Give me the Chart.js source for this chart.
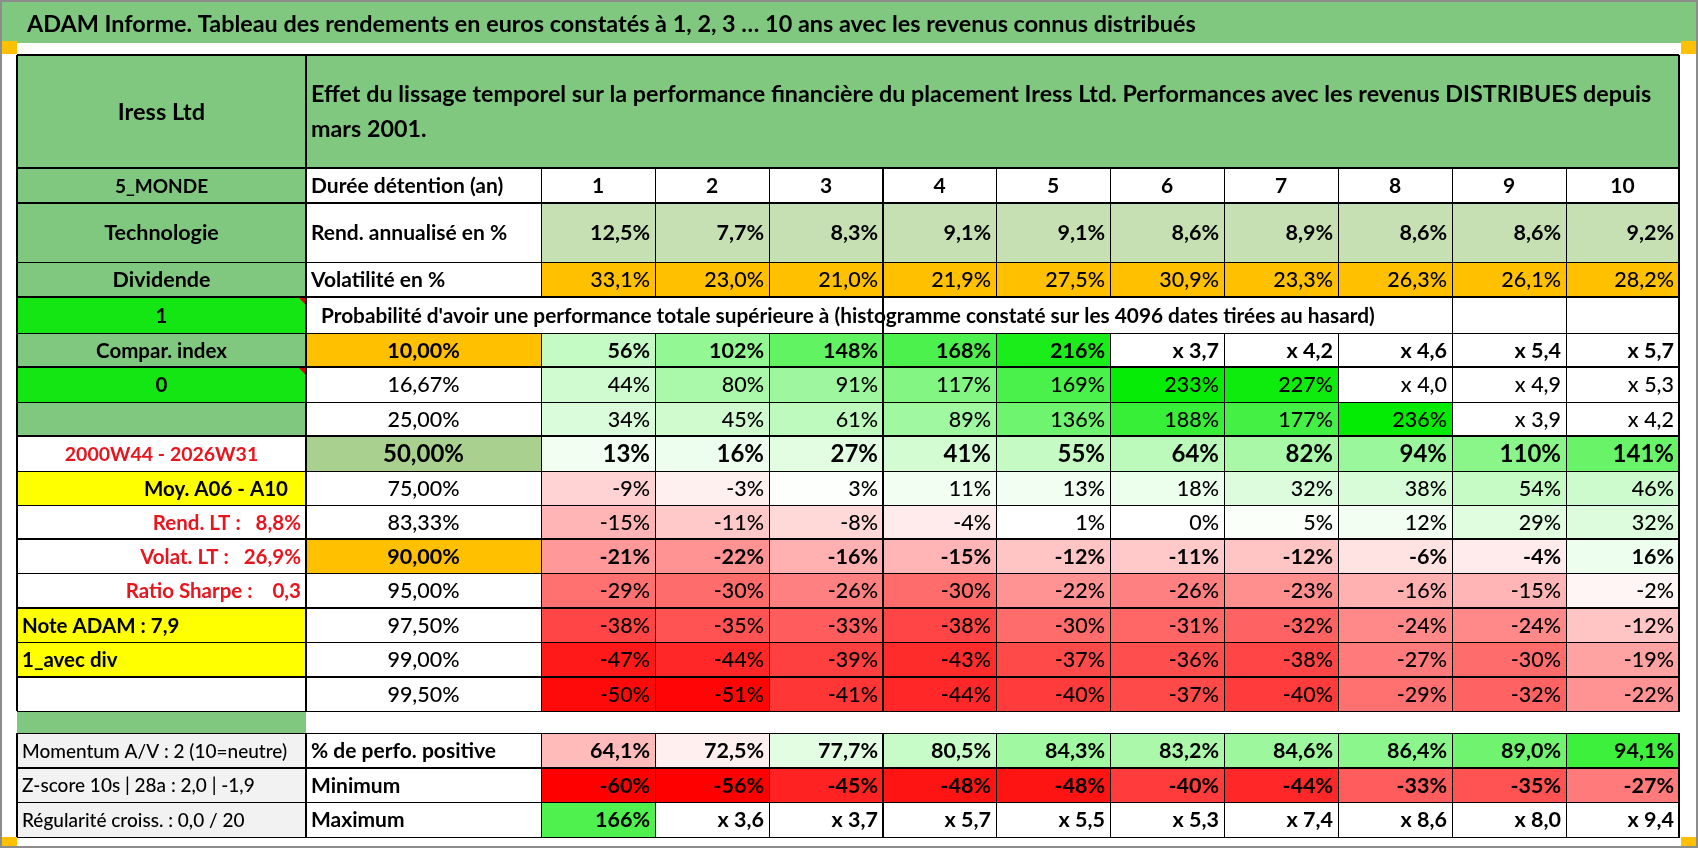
<!DOCTYPE html>
<html>
<head>
<meta charset="utf-8">
<script src="https://cdn.jsdelivr.net/npm/chart.js@4.4.1/dist/chart.umd.min.js"></script>
<style>
  html, body { margin: 0; padding: 0; background: #fff; }
  #wrap { width: 1698px; height: 848px; }
</style>
</head>
<body>
<div id="wrap"><canvas id="c" width="1698" height="848"></canvas></div>
<script>
// ---- data ----
const pageTitle = 'ADAM Informe. Tableau des rendements en euros constatés à 1, 2, 3 … 10 ans avec les revenus connus distribués';
const headerLines = [
  'Effet du lissage temporel sur la performance financière du placement Iress Ltd. Performances avec les revenus DISTRIBUES depuis',
  'mars 2001.'
];
const probTitle = "Probabilité d'avoir une performance totale supérieure à (histogramme constaté sur les 4096 dates tirées au hasard)";

const sideLabels = [
  'Iress Ltd', '5_MONDE', 'Technologie', 'Dividende', '1', 'Compar. index', '0', '',
  '2000W44 - 2026W31', 'Moy. A06 - A10', 'Rend. LT :   8,8%', 'Volat. LT :   26,9%',
  'Ratio Sharpe :    0,3', 'Note ADAM : 7,9', '1_avec div', '', '',
  'Momentum A/V : 2 (10=neutre)', 'Z-score 10s | 28a : 2,0 | -1,9', 'Régularité croiss. : 0,0 / 20'
];
const topLabels = ['Durée détention (an)', 'Rend. annualisé en %', 'Volatilité en %'];
const bottomLabels = ['% de perfo. positive', 'Minimum', 'Maximum'];

const holdYears = ['1', '2', '3', '4', '5', '6', '7', '8', '9', '10'];
const annualReturn = ['12,5%', '7,7%', '8,3%', '9,1%', '9,1%', '8,6%', '8,9%', '8,6%', '8,6%', '9,2%'];
const volatility = ['33,1%', '23,0%', '21,0%', '21,9%', '27,5%', '30,9%', '23,3%', '26,3%', '26,1%', '28,2%'];

const probLevels = ['10,00%', '16,67%', '25,00%', '50,00%', '75,00%', '83,33%', '90,00%', '95,00%', '97,50%', '99,00%', '99,50%'];
const perf1000 = ['56%', '102%', '148%', '168%', '216%', 'x 3,7', 'x 4,2', 'x 4,6', 'x 5,4', 'x 5,7'];
const perf1667 = ['44%', '80%', '91%', '117%', '169%', '233%', '227%', 'x 4,0', 'x 4,9', 'x 5,3'];
const perf2500 = ['34%', '45%', '61%', '89%', '136%', '188%', '177%', '236%', 'x 3,9', 'x 4,2'];
const perf5000 = ['13%', '16%', '27%', '41%', '55%', '64%', '82%', '94%', '110%', '141%'];
const perf7500 = ['-9%', '-3%', '3%', '11%', '13%', '18%', '32%', '38%', '54%', '46%'];
const perf8333 = ['-15%', '-11%', '-8%', '-4%', '1%', '0%', '5%', '12%', '29%', '32%'];
const perf9000 = ['-21%', '-22%', '-16%', '-15%', '-12%', '-11%', '-12%', '-6%', '-4%', '16%'];
const perf9500 = ['-29%', '-30%', '-26%', '-30%', '-22%', '-26%', '-23%', '-16%', '-15%', '-2%'];
const perf9750 = ['-38%', '-35%', '-33%', '-38%', '-30%', '-31%', '-32%', '-24%', '-24%', '-12%'];
const perf9900 = ['-47%', '-44%', '-39%', '-43%', '-37%', '-36%', '-38%', '-27%', '-30%', '-19%'];
const perf9950 = ['-50%', '-51%', '-41%', '-44%', '-40%', '-37%', '-40%', '-29%', '-32%', '-22%'];

const positiveShare = ['64,1%', '72,5%', '77,7%', '80,5%', '84,3%', '83,2%', '84,6%', '86,4%', '89,0%', '94,1%'];
const minimum = ['-60%', '-56%', '-45%', '-48%', '-48%', '-40%', '-44%', '-33%', '-35%', '-27%'];
const maximum = ['166%', 'x 3,6', 'x 3,7', 'x 5,7', 'x 5,5', 'x 5,3', 'x 7,4', 'x 8,6', 'x 8,0', 'x 9,4'];

// ---- layout (axis units = page pixels) ----
const colEdges = [17, 306, 541, 655, 769, 883, 996, 1110, 1224, 1338, 1452, 1566, 1679];
const rowEdges = [55, 168, 203, 262, 297, 333, 367, 402, 436, 471, 505, 539, 573, 608, 642, 677, 711, 733, 768, 802, 837];
const thickRows = [0, 1, 2, 4, 6, 8, 11, 13, 15, 18];
const thickCols = [0, 1, 5, 12];

const GREEN = '#80c880', LIME = '#14e614', YELLOW = '#ffff00', ORANGE = '#ffc000';
const OLIVE = '#a9d08e', PALE = '#c6e0b4', GREY = '#f2f2f2', RED_TXT = '#e8141e';
const FONT = 'Lato, "Open Sans", sans-serif';
const REG = '500';

const sideBg = [GREEN, GREEN, GREEN, GREEN, LIME, GREEN, LIME, GREEN, '#fff', YELLOW, '#fff', '#fff',
  '#fff', YELLOW, YELLOW, '#fff', GREEN, GREY, GREY, GREY];
const sideAlign = ['center', 'center', 'center', 'center', 'center', 'center', 'center', 'center', 'center',
  'right', 'right', 'right', 'right', 'left', 'left', 'left', 'left', 'left', 'left', 'left'];

function num(s) { return parseFloat(s.replace(/^x\s*/, '').replace(',', '.')); }
function mix(t, to) {
  t = Math.max(0, Math.min(1, t));
  const c = to.map(v => Math.round(255 + (v - 255) * t));
  return `rgb(${c[0]},${c[1]},${c[2]})`;
}
// conditional format like the spreadsheet: red for losses, green for gains, multiples left white
function perfColor(s) {
  if (s.startsWith('x')) return '#fff';
  const v = num(s);
  return v >= 0 ? mix(v / 240, [0, 235, 0]) : mix(-v / 52, [255, 0, 0]);
}
function shareColor(s) {
  const v = num(s);
  return v < 75 ? mix((75 - v) / 40, [255, 0, 0]) : mix((v - 75) / 25, [0, 235, 0]);
}

const cells = [];
function add(c0, c1, r0, r1, bg, txt, st) {
  cells.push(Object.assign({ c0, c1, r0, r1, bg, txt, align: 'center', weight: 'bold', size: 21.5, color: '#000', pad: 5 }, st || {}));
}

// left column
sideLabels.forEach((t, r) => {
  let st = { align: sideAlign[r], size: 20.5 };
  if (r === 0) st.size = 23.5;
  if (r === 1) st.size = 19;
  if (r === 2 || r === 3) st.size = 21.5;
  if (r === 8) st.size = 19.5;
  if (r >= 8 && r <= 12 && r !== 9) st.color = RED_TXT;
  if (r === 9) st.pad = 18;
  if (r >= 17) { st.weight = REG; st.size = 19; }
  add(0, 1, r, r + 1, sideBg[r], t, st);
});
// header
add(1, 12, 0, 1, GREEN, headerLines, { align: 'left', size: 23.3 });
// top rows
topLabels.forEach((t, i) => add(1, 2, i + 1, i + 2, '#fff', t, { align: 'left', size: 21 }));
holdYears.forEach((t, i) => add(i + 2, i + 3, 1, 2, '#fff', t, { size: 21 }));
annualReturn.forEach((t, i) => add(i + 2, i + 3, 2, 3, PALE, t, { align: 'right' }));
volatility.forEach((t, i) => add(i + 2, i + 3, 3, 4, ORANGE, t, { align: 'right', weight: REG }));
// probability title row
add(1, 10, 4, 5, '#fff', probTitle, { align: 'left', size: 20.8, pad: 15 });
add(10, 11, 4, 5, '#fff', '');
add(11, 12, 4, 5, '#fff', '');
// probability table
const perfRows = [perf1000, perf1667, perf2500, perf5000, perf7500, perf8333, perf9000, perf9500, perf9750, perf9900, perf9950];
probLevels.forEach((lvl, i) => {
  const r = i + 5;
  const strong = i === 0 || i === 3 || i === 6;
  const size = i === 3 ? 24 : 21.5;
  const bg = i === 3 ? OLIVE : (strong ? ORANGE : '#fff');
  add(1, 2, r, r + 1, bg, lvl, { weight: strong ? 'bold' : REG, size });
  perfRows[i].forEach((t, j) => add(j + 2, j + 3, r, r + 1, perfColor(t), t,
    { align: 'right', weight: strong ? 'bold' : REG, size }));
});
// gap row
add(1, 12, 16, 17, '#fff', '');
// bottom rows
bottomLabels.forEach((t, i) => add(1, 2, i + 17, i + 18, '#fff', t, { align: 'left', size: 21 }));
positiveShare.forEach((t, i) => add(i + 2, i + 3, 17, 18, shareColor(t), t, { align: 'right' }));
minimum.forEach((t, i) => add(i + 2, i + 3, 18, 19, perfColor(t), t, { align: 'right' }));
maximum.forEach((t, i) => add(i + 2, i + 3, 19, 20, perfColor(t), t, { align: 'right' }));

const tablePlugin = {
  id: 'tableCells',
  afterDraw(chart) {
    const ctx = chart.ctx;
    const X = v => chart.scales.x.getPixelForValue(v);
    const Y = v => chart.scales.y.getPixelForValue(v);
    const cx = i => X(colEdges[i]);
    const ry = i => Y(rowEdges[i]);

    ctx.save();
    // page background, title band, frame
    ctx.fillStyle = '#fff';
    ctx.fillRect(X(0), Y(0), X(1698) - X(0), Y(848) - Y(0));
    ctx.fillStyle = GREEN;
    ctx.fillRect(X(0), Y(0), X(1698) - X(0), Y(43) - Y(0));
    ctx.fillStyle = '#000';
    ctx.font = `bold 23.4px ${FONT}`;
    ctx.textAlign = 'left';
    ctx.textBaseline = 'middle';
    ctx.fillText(pageTitle, X(27), Y(24));
    ctx.fillStyle = ORANGE;
    [[0, 41], [1681, 41], [0, 837], [1681, 837]].forEach(p =>
      ctx.fillRect(X(p[0]), Y(p[1]), X(p[0] + 17) - X(p[0]), Y(p[1] + 13) - Y(p[1])));

    // cell fills
    cells.forEach(c => {
      ctx.fillStyle = c.bg;
      ctx.fillRect(cx(c.c0), ry(c.r0), cx(c.c1) - cx(c.c0), ry(c.r1) - ry(c.r0));
    });
    // comment markers
    ctx.fillStyle = '#e00000';
    [4, 6].forEach(r => {
      ctx.beginPath();
      ctx.moveTo(cx(1) - 8, ry(r));
      ctx.lineTo(cx(1), ry(r));
      ctx.lineTo(cx(1), ry(r) + 8);
      ctx.closePath();
      ctx.fill();
    });
    // thin grid
    ctx.strokeStyle = '#000';
    ctx.lineWidth = 1;
    cells.forEach(c => {
      if (c.r0 === 16) return;
      ctx.strokeRect(Math.round(cx(c.c0)) + 0.5, Math.round(ry(c.r0)) + 0.5,
        Math.round(cx(c.c1) - cx(c.c0)), Math.round(ry(c.r1) - ry(c.r0)));
    });
    // heavier rules
    ctx.lineWidth = 2;
    thickRows.forEach(r => {
      ctx.beginPath();
      ctx.moveTo(cx(0), ry(r)); ctx.lineTo(cx(12), ry(r)); ctx.stroke();
    });
    thickCols.forEach(c => {
      [[0, 16], [17, 20]].forEach(span => {
        const top = (c === 5 && span[0] === 0) ? 1 : span[0];
        ctx.beginPath();
        ctx.moveTo(cx(c), ry(top)); ctx.lineTo(cx(c), ry(span[1])); ctx.stroke();
      });
    });

    // texts
    cells.forEach(c => {
      if (!c.txt || !c.txt.length) return;
      ctx.font = `${c.weight} ${c.size}px ${FONT}`;
      ctx.fillStyle = c.color;
      ctx.textBaseline = 'middle';
      ctx.textAlign = c.align;
      const x0 = cx(c.c0), x1 = cx(c.c1);
      const tx = c.align === 'left' ? x0 + c.pad : c.align === 'right' ? x1 - c.pad : (x0 + x1) / 2;
      if (Array.isArray(c.txt)) {
        const mid = (ry(c.r0) + ry(c.r1)) / 2;
        c.txt.forEach((line, k) => ctx.fillText(line, tx, mid - 18 + k * 35 + 1));
      } else {
        ctx.fillText(c.txt, tx, (ry(c.r0) + ry(c.r1)) / 2 + 1);
      }
    });

    // outer page frame
    ctx.strokeStyle = '#8c8c8c';
    ctx.lineWidth = 2;
    ctx.strokeRect(X(1), Y(1), X(1697) - X(1), Y(847) - Y(1));
    ctx.restore();
  }
};

new Chart(document.getElementById('c').getContext('2d'), {
  type: 'scatter',
  data: { datasets: [{ data: [], showLine: false }] },
  options: {
    responsive: false,
    animation: false,
    devicePixelRatio: 1,
    layout: { padding: 0 },
    plugins: { legend: { display: false }, tooltip: { enabled: false } },
    scales: {
      x: { type: 'linear', display: false, min: 0, max: 1698 },
      y: { type: 'linear', display: false, min: 0, max: 848, reverse: true }
    }
  },
  plugins: [tablePlugin]
});
</script>
</body>
</html>
